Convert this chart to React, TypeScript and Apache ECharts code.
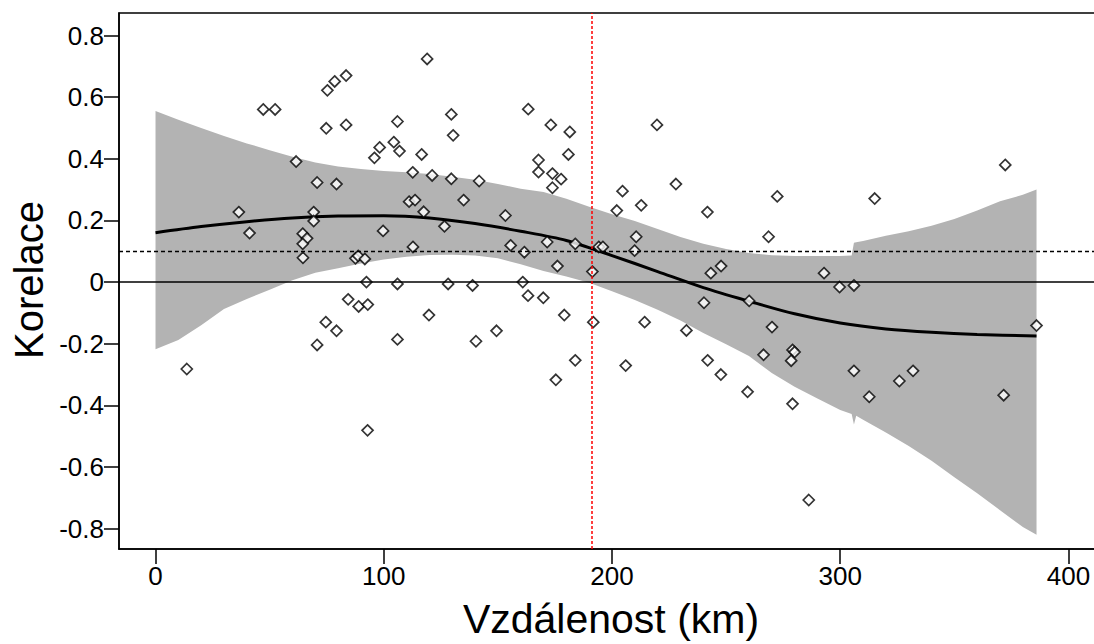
import React, { useEffect, useRef } from "react";
import * as echarts from "echarts";

// Scatter points: distance (km) and correlation
const distances = [
  13.7, 36.5, 41.2, 47.2, 52.4, 61.6, 64.5, 66.4, 64.5, 64.6, 69.3, 69.3, 70.8, 70.8, 74.8, 75.3, 74.6, 78.5, 79.3, 79.3,
  83.5, 83.5, 84.4, 87.6, 88.8, 91.7, 89.0, 93.0, 92.4, 92.9, 95.9, 98.2, 99.7, 104.4, 106.0, 106.9, 106.0, 106.0, 111.1, 113.7,
  112.7, 112.8, 116.6, 117.5, 119.0, 119.8, 121.2, 126.6, 128.2, 129.6, 130.4, 129.6, 135.0, 138.9, 140.4, 141.8, 149.4, 153.3, 155.6, 160.9,
  161.6, 163.2, 163.3, 169.9, 171.6, 173.2, 167.8, 167.8, 173.9, 173.9, 177.7, 180.9, 181.5, 175.4, 176.1, 179.1, 183.9, 183.9, 191.4, 191.8,
  194.2, 196.0, 202.1, 204.6, 206.0, 209.9, 210.6, 212.8, 214.3, 219.7, 228.0, 232.6, 240.3, 241.8, 241.9, 243.3, 247.8, 247.7, 259.4, 260.1,
  266.4, 268.6, 270.1, 272.4, 279.1, 280.0, 278.5, 279.1, 286.2, 292.9, 299.7, 306.0, 306.0, 312.7, 315.1, 325.9, 331.9, 371.6, 372.3, 386.0,
];
const correlations = [
  -0.282, 0.227, 0.159, 0.56, 0.56, 0.391, 0.157, 0.142, 0.124, 0.079, 0.227, 0.198, 0.323, -0.204, 0.499, 0.622, -0.13, 0.651, 0.318, -0.158,
  0.67, 0.51, -0.056, 0.077, 0.085, 0.075, -0.079, -0.073, 0.0, -0.481, 0.403, 0.437, 0.166, 0.454, 0.521, 0.425, -0.006, -0.186, 0.261, 0.266,
  0.356, 0.114, 0.414, 0.228, 0.724, -0.107, 0.346, 0.181, -0.006, 0.544, 0.476, 0.335, 0.266, -0.011, -0.192, 0.328, -0.158, 0.216, 0.119, 0.0,
  0.097, -0.044, 0.561, -0.051, 0.13, 0.51, 0.396, 0.357, 0.352, 0.306, 0.334, 0.414, 0.487, -0.317, 0.052, -0.107, 0.124, -0.254, 0.034, -0.13,
  0.114, 0.114, 0.232, 0.295, -0.271, 0.102, 0.147, 0.249, -0.13, 0.51, 0.318, -0.157, -0.067, 0.227, -0.254, 0.029, 0.052, -0.3, -0.356, -0.061,
  -0.236, 0.147, -0.146, 0.278, -0.22, -0.227, -0.255, -0.395, -0.707, 0.029, -0.016, -0.011, -0.288, -0.372, 0.271, -0.321, -0.288, -0.367, 0.38, -0.141,
];

// Smoothed fit
const fitX = [0, 20, 40, 60, 80, 100, 120, 140, 160, 180, 200, 220, 240, 260, 280, 300, 320, 340, 360, 386];
const fitY = [0.16, 0.18, 0.196, 0.208, 0.214, 0.215, 0.208, 0.19, 0.165, 0.135, 0.086, 0.034, -0.018, -0.062, -0.103, -0.133, -0.152, -0.163, -0.17, -0.175];

// Confidence band
const bandX = [0, 10, 20, 30, 40, 50, 60, 70, 80, 90, 100, 110, 120, 130, 140, 150, 160, 170, 180, 190, 200, 210, 220, 230, 240, 250, 260, 270, 280, 290, 300, 305, 306, 307, 310, 320, 330, 340, 350, 360, 370, 380, 386];
const bandUpper = [0.555, 0.527, 0.5, 0.474, 0.45, 0.428, 0.407, 0.388, 0.375, 0.367, 0.36, 0.356, 0.351, 0.342, 0.332, 0.318, 0.303, 0.292, 0.27, 0.244, 0.22, 0.198, 0.172, 0.146, 0.124, 0.107, 0.094, 0.087, 0.085, 0.085, 0.085, 0.086, 0.128, 0.129, 0.133, 0.15, 0.165, 0.183, 0.205, 0.232, 0.262, 0.283, 0.3];
const bandLower = [-0.218, -0.188, -0.14, -0.087, -0.055, -0.025, 0.006, 0.03, 0.045, 0.06, 0.073, 0.082, 0.088, 0.089, 0.086, 0.077, 0.058, 0.036, 0.018, -0.002, -0.03, -0.058, -0.09, -0.125, -0.165, -0.202, -0.24, -0.295, -0.34, -0.378, -0.415, -0.428, -0.462, -0.434, -0.447, -0.488, -0.532, -0.58, -0.633, -0.685, -0.74, -0.795, -0.82];

const xTicks = [0, 100, 200, 300, 400];
const yTicks = [-0.8, -0.6, -0.4, -0.2, 0, 0.2, 0.4, 0.6, 0.8];
const thresholdLine = 0.1;
const breakDistance = 191;

const FONT = "'Liberation Sans', Arial, sans-serif";

export default function App() {
  const ref = useRef<HTMLDivElement>(null);
  useEffect(() => {
    if (!ref.current) return;
    const chart = echarts.init(ref.current, undefined, { renderer: "svg" });
    const scatterData = distances.map((d, i) => [d, correlations[i]]);
    const fitData = fitX.map((x, i) => [x, fitY[i]]);
    chart.setOption({
      animation: false,
      backgroundColor: "#fff",
      grid: {
        left: 119,
        top: 13,
        width: 986,
        height: 536,
        containLabel: false,
        outerBoundsMode: "none",
        show: true,
        borderColor: "#000",
        borderWidth: 1.5,
        backgroundColor: "transparent",
      },
      xAxis: {
        type: "value",
        min: -16,
        max: 416,
        axisLine: { show: true, onZero: false, lineStyle: { color: "#000", width: 1.5 } },
        axisTick: { show: true, length: 15, customValues: xTicks, lineStyle: { color: "#000", width: 1.5 } },
        axisLabel: { customValues: xTicks, fontSize: 26, color: "#000", fontFamily: FONT, margin: 14 },
        splitLine: { show: false },
      },
      yAxis: {
        type: "value",
        min: -0.866,
        max: 0.873,
        axisLine: { show: true, onZero: false, lineStyle: { color: "#000", width: 1.5 } },
        axisTick: { show: true, length: 15, customValues: yTicks, lineStyle: { color: "#000", width: 1.5 } },
        axisLabel: {
          customValues: yTicks,
          fontSize: 26,
          color: "#000",
          fontFamily: FONT,
          margin: 15,
          formatter: (v: number) => (Math.abs(v) < 1e-9 ? "0" : v.toFixed(1)),
        },
        splitLine: { show: false },
      },
      graphic: [
        {
          type: "text",
          x: 29,
          y: 280,
          rotation: Math.PI / 2,
          style: { text: "Korelace", fontSize: 40, fontFamily: FONT, fill: "#000", textAlign: "center", textVerticalAlign: "middle" },
        },
        {
          type: "text",
          x: 611,
          y: 619,
          style: { text: "Vzdálenost (km)", fontSize: 41, fontFamily: FONT, fill: "#000", textAlign: "center", textVerticalAlign: "middle" },
        },
      ],
      series: [
        {
          type: "custom",
          silent: true,
          z: 1,
          clip: true,
          data: [[0, 0]],
          renderItem: (_params: any, api: any) => {
            const pts: number[][] = [];
            for (let i = 0; i < bandX.length; i++) pts.push(api.coord([bandX[i], bandUpper[i]]));
            for (let i = bandX.length - 1; i >= 0; i--) pts.push(api.coord([bandX[i], bandLower[i]]));
            return { type: "polygon", shape: { points: pts }, style: { fill: "#B3B3B3", stroke: "none" } };
          },
        },
        {
          type: "line",
          z: 3,
          data: fitData,
          smooth: 0.3,
          showSymbol: false,
          symbol: "none",
          lineStyle: { color: "#000", width: 3 },
          silent: true,
          markLine: {
            silent: true,
            symbol: "none",
            label: { show: false },
            animation: false,
            data: [
              { yAxis: 0, lineStyle: { color: "#000", width: 1.5, type: "solid" } },
              { yAxis: thresholdLine, lineStyle: { color: "#000", width: 1.3, type: [4, 3] } },
              { xAxis: breakDistance, lineStyle: { color: "#FF0000", width: 1.5, type: [3, 2] } },
            ],
          },
        },
        {
          type: "scatter",
          z: 4,
          data: scatterData,
          symbol: "diamond",
          symbolSize: 11,
          itemStyle: { color: "#fff", borderColor: "#000", borderWidth: 1.7 },
          silent: true,
        },
      ],
    });
    return () => chart.dispose();
  }, []);
  return (
    <div
      ref={ref}
      style={{ position: "fixed", left: 0, top: 0, width: 1094, height: 644, overflow: "hidden", background: "#fff" }}
    />
  );
}
